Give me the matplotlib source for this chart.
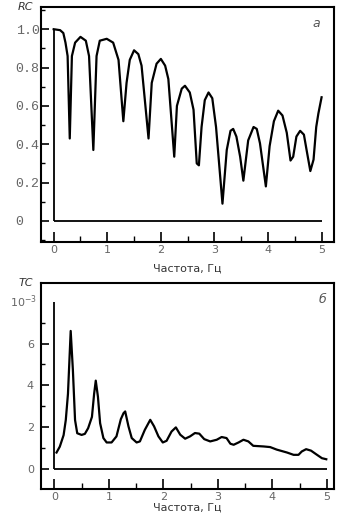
import matplotlib
matplotlib.use("Agg")
import matplotlib.pyplot as plt
from matplotlib.ticker import MultipleLocator

# Panel a: reflection coefficient RC vs frequency
rc_f = [0.0, 0.12, 0.18, 0.22, 0.26, 0.30, 0.34, 0.40, 0.50, 0.60, 0.66, 0.74,
        0.80, 0.86, 0.99, 1.11, 1.21, 1.30, 1.36, 1.42, 1.50, 1.58, 1.64, 1.77,
        1.83, 1.92, 2.00, 2.08, 2.14, 2.25, 2.30, 2.39, 2.45, 2.54, 2.61, 2.67,
        2.71, 2.76, 2.82, 2.89, 2.96, 3.03, 3.15, 3.23, 3.30, 3.35, 3.41, 3.48,
        3.54, 3.63, 3.73, 3.79, 3.85, 3.96, 4.03, 4.11, 4.19, 4.27, 4.35, 4.42,
        4.47, 4.53, 4.60, 4.67, 4.72, 4.79, 4.85, 4.90, 4.94, 5.00]
rc_v = [1.0, 0.995, 0.98, 0.93, 0.86, 0.43, 0.86, 0.93, 0.96, 0.94, 0.86, 0.37,
        0.86, 0.94, 0.95, 0.93, 0.84, 0.52, 0.72, 0.84, 0.89, 0.87, 0.81, 0.43,
        0.72, 0.82, 0.845, 0.81, 0.74, 0.335, 0.60, 0.69, 0.705, 0.67, 0.58, 0.30,
        0.29, 0.49, 0.63, 0.67, 0.64, 0.49, 0.09, 0.37, 0.47, 0.48, 0.44, 0.335,
        0.21, 0.42, 0.49, 0.48, 0.405, 0.18, 0.39, 0.52, 0.575, 0.55, 0.46, 0.315,
        0.335, 0.44, 0.47, 0.45, 0.37, 0.26, 0.32, 0.49, 0.56, 0.645]

# Panel b: transmission coefficient TC (x 10^-3) vs frequency
tc_f = [0.04, 0.10, 0.17, 0.21, 0.25, 0.30, 0.34, 0.38, 0.42, 0.50, 0.56, 0.62,
        0.69, 0.73, 0.76, 0.80, 0.84, 0.90, 0.96, 1.05, 1.14, 1.22, 1.27, 1.30,
        1.36, 1.42, 1.51, 1.57, 1.66, 1.76, 1.83, 1.91, 1.99, 2.06, 2.15, 2.23,
        2.31, 2.40, 2.49, 2.58, 2.66, 2.75, 2.86, 2.98, 3.07, 3.16, 3.23, 3.29,
        3.38, 3.47, 3.56, 3.65, 3.84, 3.96, 4.08, 4.27, 4.39, 4.48, 4.54, 4.62,
        4.71, 4.82, 4.91, 4.99]
tc_v = [0.80, 1.08, 1.63, 2.35, 3.6, 6.6, 4.75, 2.35, 1.72, 1.64, 1.69, 1.96,
        2.5, 3.6, 4.23, 3.46, 2.2, 1.49, 1.28, 1.28, 1.57, 2.39, 2.68, 2.76,
        2.05, 1.49, 1.28, 1.33, 1.88, 2.36, 2.05, 1.57, 1.28, 1.36, 1.8, 2.0,
        1.65, 1.46, 1.57, 1.73, 1.7, 1.44, 1.33, 1.41, 1.54, 1.49, 1.22, 1.17,
        1.28, 1.41, 1.33, 1.12, 1.09, 1.06, 0.94, 0.80, 0.69, 0.69, 0.85, 0.96,
        0.89, 0.69, 0.53, 0.48]

rc_yticks = [0, 0.2, 0.4, 0.6, 0.8, 1.0]
rc_ylabels = ["0  ", "0.2", "0.4", "0.6", "0.8", "1.0"]
tc_yticks = [0, 2, 4, 6]
tc_ylabels = ["0", "2", "4", "6"]
tc_top = 8
x_ticks = [0, 1, 2, 3, 4, 5]
xlabel = "Частота, Гц"

fig = plt.figure(figsize=(3.43, 5.2), dpi=100)
ax1 = fig.add_axes([0.1195, 0.5346, 0.854, 0.452])
ax2 = fig.add_axes([0.1195, 0.0596, 0.854, 0.3967])

lab_col = "#666666"


def style(ax, xlim, ylim, yticks, ylabels, yminor, ymono, inner_top):
    ax.set_xlim(*xlim)
    ax.set_ylim(*ylim)
    for s in ax.spines.values():
        s.set_linewidth(1.5)
    ax.set_xticks(x_ticks)
    ax.set_xticklabels([str(t) for t in x_ticks], color=lab_col, fontsize=8)
    ax.xaxis.set_minor_locator(MultipleLocator(0.5))
    ax.set_yticks(yticks)
    if ymono:
        ax.set_yticklabels(ylabels, color=lab_col, fontsize=9.5,
                           family="Liberation Mono")
    else:
        ax.set_yticklabels(ylabels, color=lab_col, fontsize=8)
    ax.yaxis.set_minor_locator(MultipleLocator(yminor))
    ax.tick_params(which="both", direction="in", top=False, right=False)
    ax.tick_params(axis="y", which="major", length=6, width=1.2,
                   pad=1 if ymono else 5)
    ax.tick_params(axis="y", which="minor", length=3, width=1.0)
    ax.tick_params(axis="x", which="major", length=7, width=1.2, pad=2)
    ax.tick_params(axis="x", which="minor", length=4.5, width=1.0)
    # inner axis lines
    ax.vlines(x_ticks[0], 0, inner_top, color="black", lw=1.3)
    ax.hlines(0, x_ticks[0], x_ticks[-1], color="black", lw=1.3)


style(ax1, (-0.237, 5.23), (-0.11, 1.116), rc_yticks, rc_ylabels, 0.1, True,
      rc_yticks[-1])
ax1.plot(rc_f, rc_v, color="black", lw=1.6)
ax1.text(-0.027, 1.0, "RC", transform=ax1.transAxes, ha="right", va="center",
         fontsize=8, style="italic", color="#333333")
ax1.text(0.94, 0.93, "а", transform=ax1.transAxes, ha="center", va="center",
         fontsize=9, style="italic", color="#555555")

style(ax2, (-0.245, 5.13), (-0.94, 8.9), tc_yticks, tc_ylabels, 1, False, tc_top)
ax2.set_yticks([1, 3, 5, 7], minor=True)
ax2.plot(tc_f, tc_v, color="black", lw=1.6)
ax2.text(-0.012, tc_top, "10$^{-3}$", transform=ax2.get_yaxis_transform(),
         ha="right", va="center", fontsize=8, color=lab_col)
ax2.text(-0.027, 1.0, "TC", transform=ax2.transAxes, ha="right", va="center",
         fontsize=8, style="italic", color="#333333")
ax2.text(0.96, 0.92, "б", transform=ax2.transAxes, ha="center", va="center",
         fontsize=9, style="italic", color="#555555")

fig.text(0.545, 1 - 269 / 520, xlabel, ha="center", va="center", fontsize=8,
         color="#333333")
fig.text(0.545, 1 - 508 / 520, xlabel, ha="center", va="center", fontsize=8,
         color="#333333")

fig.savefig("out.png", dpi=100)
